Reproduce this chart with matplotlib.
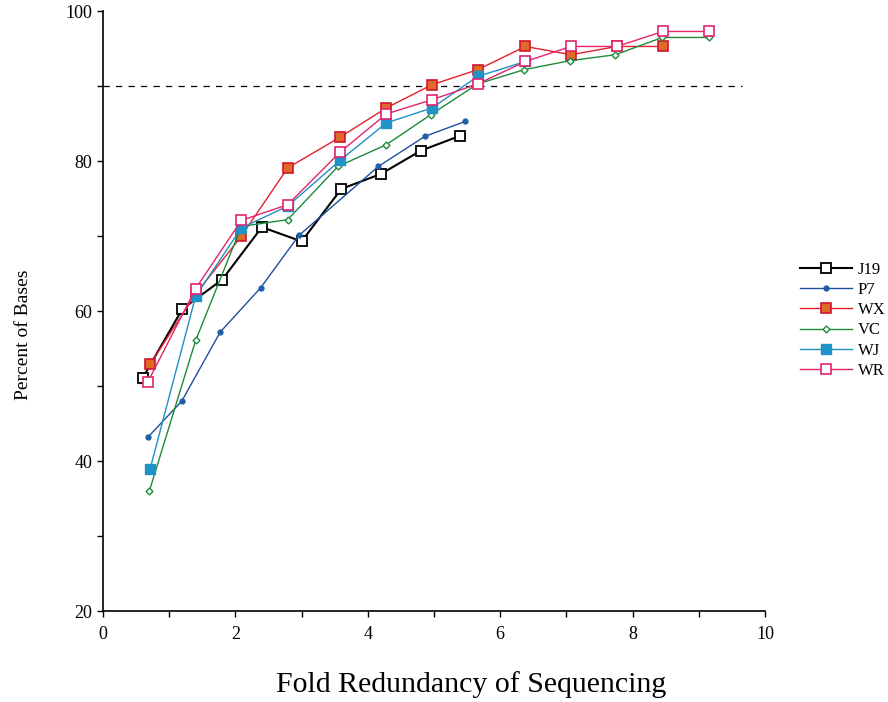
import matplotlib
matplotlib.use("Agg")
import matplotlib.pyplot as plt
from matplotlib.ticker import MultipleLocator

plt.rcParams['font.family'] = ['Liberation Serif', 'DejaVu Serif']

j19_x = [0.6, 1.2, 1.8, 2.4, 3.0, 3.6, 4.2, 4.8, 5.4]
j19_y = [51.1, 60.3, 64.2, 71.2, 69.3, 76.3, 78.3, 81.4, 83.4]

p7_x = [0.68, 1.19, 1.77, 2.38, 2.96, 4.16, 4.86, 5.47]
p7_y = [43.2, 48.0, 57.2, 63.1, 70.1, 79.3, 83.3, 85.3]

wx_x = [0.71, 1.40, 2.09, 2.79, 3.58, 4.28, 4.97, 5.66, 6.38, 7.07, 7.76, 8.46]
wx_y = [52.9, 62.3, 70.0, 79.1, 83.2, 87.1, 90.2, 92.2, 95.3, 94.2, 95.3, 95.3]

vc_x = [0.70, 1.40, 2.09, 2.79, 3.55, 4.28, 4.95, 5.66, 6.36, 7.05, 7.74, 8.45, 9.15]
vc_y = [36.0, 56.1, 71.3, 72.2, 79.3, 82.2, 86.2, 90.3, 92.2, 93.4, 94.2, 96.5, 96.5]

wj_x = [0.71, 1.40, 2.09, 2.79, 3.58, 4.28, 4.97, 5.66, 6.38]
wj_y = [38.9, 62.0, 71.1, 74.0, 80.1, 85.1, 87.1, 91.3, 93.3]

wr_x = [0.68, 1.40, 2.09, 2.79, 3.58, 4.28, 4.97, 5.66, 6.38, 7.07, 7.76, 8.46, 9.15]
wr_y = [50.6, 63.0, 72.1, 74.2, 81.2, 86.3, 88.2, 90.3, 93.3, 95.3, 95.3, 97.3, 97.3]

target = 90

fig = plt.figure(figsize=(8.88, 7.02), dpi=100)
ax = fig.add_axes([0.116, 0.1296, 0.7455, 0.8544])

ax.plot([0, 9.65], [target, target], color="black", lw=0.9, dashes=(5, 5))

ax.plot(j19_x, j19_y, color="black", lw=1.5, marker="s", ms=6.5,
        mfc="white", mec="black", mew=1.3, label="J19", clip_on=False)
ax.plot(p7_x, p7_y, color="#1f4f9e", lw=1.0, marker="o", ms=3.5,
        mfc="#1f5fa8", mec="#1f5fa8", label="P7", clip_on=False)
ax.plot(wx_x, wx_y, color="#e3202c", lw=1.0, marker="s", ms=6.5,
        mfc="#de6a2a", mec="#d2142e", mew=1.2, label="WX", clip_on=False)
ax.plot(vc_x, vc_y, color="#1d8a3c", lw=1.0, marker="D", ms=3.5,
        mfc="white", mec="#1d8a3c", mew=1.0, label="VC", clip_on=False)
ax.plot(wj_x, wj_y, color="#1f8fc2", lw=1.0, marker="s", ms=6.5,
        mfc="#1f93c8", mec="#1f93c8", label="WJ", clip_on=False)
ax.plot(wr_x, wr_y, color="#e2236f", lw=1.0, marker="s", ms=6.5,
        mfc="white", mec="#e2236f", mew=1.2, label="WR", clip_on=False)

ax.set_xlim(0, 10)
ax.set_ylim(20, 100)
ax.xaxis.set_major_locator(MultipleLocator(2))
ax.xaxis.set_minor_locator(MultipleLocator(1))
ax.yaxis.set_major_locator(MultipleLocator(20))
ax.yaxis.set_minor_locator(MultipleLocator(10))
ax.tick_params(which="both", direction="out", length=4, width=1, labelsize=13)
ax.tick_params(axis="x", which="both", pad=7)

for side in ("top", "right"):
    ax.spines[side].set_visible(False)
ax.spines["left"].set_linewidth(1.2)
ax.spines["bottom"].set_linewidth(1.2)

ax.set_xlabel("Fold Redundancy of Sequencing", fontsize=21.5)
ax.xaxis.set_label_coords(0.556, -0.100)
ax.set_ylabel("Percent of Bases", fontsize=14)
ax.yaxis.set_label_coords(-0.108, 0.461)

fig.legend(loc="upper left", bbox_to_anchor=(0.9009, 0.627), frameon=False,
           fontsize=12, handlelength=3.1, handletextpad=0.36, labelspacing=0.25,
           borderpad=0, borderaxespad=0)

fig.savefig("out.png", dpi=100)
